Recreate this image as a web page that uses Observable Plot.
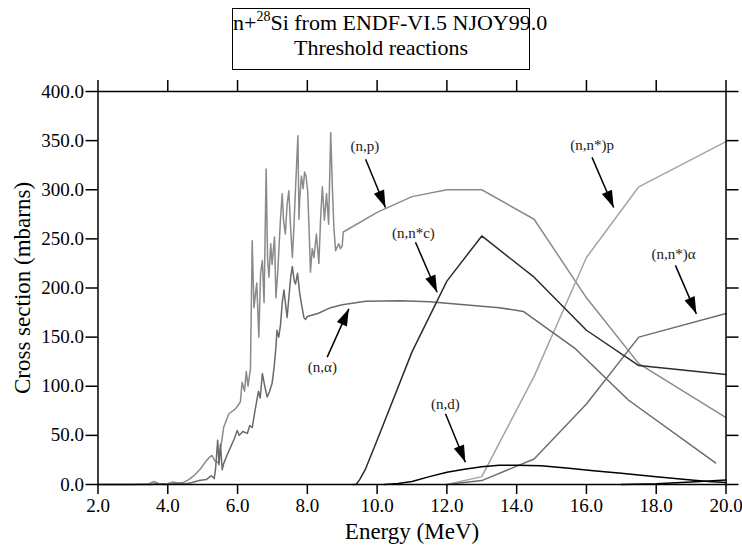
<!DOCTYPE html>
<html>
<head>
<meta charset="utf-8">
<script src="https://cdn.jsdelivr.net/npm/d3@7"></script>
<script src="https://cdn.jsdelivr.net/npm/@observablehq/plot@0.6"></script>
<style>
  html, body { margin: 0; padding: 0; background: white; }
  #wrap { position: relative; width: 742px; height: 548px; font-family: "Liberation Serif"; }
  #title { position: absolute; left: 232px; top: 8px; width: 296px; height: 59px; border: 1.5px solid black; white-space: nowrap;
           text-align: center; font-size: 22px; line-height: 25px; padding-top: 1px; box-sizing: content-box; color: #000; background: white; }
  #title sup { font-size: 14px; line-height: 0; vertical-align: 9px; }
</style>
</head>
<body>
<div id="wrap">
  <div id="title">n+<sup>28</sup>Si from ENDF-VI.5 NJOY99.0<br>Threshold reactions</div>
</div>
<script>
// ---- tick labels ----
const xTicks = [2, 4, 6, 8, 10, 12, 14, 16, 18, 20];
const yTicks = [0, 50, 100, 150, 200, 250, 300, 350, 400];
const xTitle = "Energy (MeV)";
const yTitle = "Cross section (mbarns)";

// ---- (n,p) ----
const npE = [2.0, 3.0, 3.45, 3.6, 3.75, 4.0, 4.15, 4.3, 4.45, 4.6, 4.75, 4.94, 5.1, 5.2, 5.27, 5.35, 5.45, 5.5, 5.55, 5.6, 5.75, 5.94, 6.08, 6.13, 6.2, 6.25, 6.3, 6.37, 6.42, 6.47, 6.55, 6.61, 6.66, 6.71, 6.76, 6.82, 6.86, 6.9, 6.95, 6.99, 7.06, 7.1, 7.15, 7.23, 7.28, 7.32, 7.37, 7.42, 7.47, 7.52, 7.57, 7.61, 7.66, 7.73, 7.76, 7.78, 7.83, 7.88, 7.92, 7.96, 8.01, 8.05, 8.09, 8.14, 8.19, 8.26, 8.33, 8.38, 8.43, 8.49, 8.55, 8.61, 8.67, 8.72, 8.76, 8.81, 8.9, 8.95, 9.0, 9.03, 10.0, 11.0, 12.0, 13.0, 14.5, 16.0, 17.5, 20.0];
const npS = [0, 0, 0.5, 3, 0.5, 1, 2.5, 1.5, 2, 5, 9, 16, 24, 28, 29.5, 24, 22, 35, 45, 58, 72, 77, 84, 104, 95, 115, 100, 118, 248, 180, 205, 150, 215, 228, 185, 321, 230, 211, 245, 224, 252, 190, 215, 270, 296, 268, 255, 285, 299, 262, 231, 258, 300, 355, 270, 289, 314, 301, 318, 314, 299, 260, 216, 240, 231, 255, 225, 270, 303, 269, 296, 265, 358, 300, 262, 238, 245, 240, 243, 257, 277, 293, 300, 300, 270, 190, 123, 68];

// ---- (n,alpha) ----
const naE = [2.0, 3.5, 3.7, 3.9, 4.3, 4.5, 4.7, 4.9, 5.1, 5.25, 5.33, 5.37, 5.43, 5.47, 5.51, 5.56, 5.6, 5.7, 5.8, 5.9, 5.99, 6.05, 6.15, 6.28, 6.35, 6.42, 6.5, 6.6, 6.65, 6.71, 6.78, 6.85, 6.92, 6.99, 7.05, 7.1, 7.13, 7.18, 7.23, 7.28, 7.33, 7.38, 7.42, 7.47, 7.52, 7.57, 7.62, 7.66, 7.72, 7.78, 7.84, 7.9, 7.95, 8.0, 8.3, 8.67, 9.0, 9.67, 10.67, 11.5, 12.5, 13.5, 14.2, 15.69, 17.2, 19.7];
const naS = [0, 0, 1, 0, 1, 0.5, 2, 4, 5, 9, 6, 16, 45, 20, 41, 15, 21, 30, 38, 46, 55, 50, 54, 52, 60, 58, 75, 95, 88, 113, 100, 89, 95, 103, 120, 140, 157, 150, 162, 185, 198, 182, 170, 190, 210, 222, 208, 204, 215, 195, 182, 170, 168, 171, 174, 180, 183, 186.5, 187, 186, 183, 180, 176, 138, 86, 22];

// ---- (n,n*c) ----
const ncE = [9.3, 9.4, 9.5, 9.67, 10.0, 11.0, 12.0, 13.0, 14.5, 16.0, 17.5, 20.0];
const ncS = [0, 0, 5, 16, 45, 135, 207, 253, 211, 157, 121, 112];

// ---- (n,d) ----
const ndE = [10.2, 10.6, 11.0, 11.5, 12.0, 12.5, 13.0, 13.5, 14.0, 14.7, 15.5, 16.2, 17.0, 18.0, 19.0, 19.5, 20.0];
const ndS = [0, 1, 3, 8, 12.5, 15.5, 18, 19.5, 19.5, 19, 16.5, 14, 11.5, 8, 4.5, 3, 2];

// ---- small unlabeled reaction near 20 MeV ----
const ntE = [17.0, 18.0, 19.0, 20.0];
const ntS = [0, 0.8, 2.5, 4.5];

// ---- (n,n*)p ----
const nnpE = [12.0, 13.0, 14.5, 16.0, 17.5, 20.0];
const nnpS = [0, 8, 110, 231, 303, 349];

// ---- (n,n*)alpha ----
const nnaE = [12.0, 13.0, 14.5, 16.0, 17.5, 20.0];
const nnaS = [0, 4, 26, 82, 150, 174];

// ---- annotations: label position, arrow start, arrow tip ----
const annLabel = ["(n,p)", "(n,n*c)", "(n,α)", "(n,d)", "(n,n*)p", "(n,n*)α"];
const annX  = [9.65, 11.04, 8.43, 11.96, 16.16, 18.5];
const annY  = [344, 255.5, 119.4, 82, 345, 234.8];
const arrX1 = [9.67, 11.1, 8.57, 11.96, 16.16, 18.55];
const arrY1 = [331, 246.6, 129.6, 72, 333, 223];
const arrX2 = [10.24, 11.72, 9.19, 12.53, 16.78, 19.15];
const arrY2 = [282, 195.7, 178.8, 22.7, 282, 173.7];

// ---- build tables ----
const mk = (E, S) => E.map((e, i) => ({E: e, S: S[i]}));
const series = [
  {data: mk(npE, npS),  color: "#8a8a8a"},
  {data: mk(nnpE, nnpS), color: "#a4a4a4"},
  {data: mk(naE, naS),  color: "#6a6a6a"},
  {data: mk(nnaE, nnaS), color: "#6e6e6e"},
  {data: mk(ncE, ncS),  color: "#2c2c2c"},
  {data: mk(ntE, ntS),  color: "#000000"},
  {data: mk(ndE, ndS),  color: "#000000"}
];

const W = 742, H = 548;
const mL = 97.5, mR = 16.5, mT = 91, mB = 64;
const xs = d3.scaleLinear().domain([2, 20]).range([mL, W - mR]);
const ys = d3.scaleLinear().domain([0, 400]).range([H - mB, mT]);

const ann = annLabel.map((t, i) => {
  const dx = xs(arrX2[i]) - xs(arrX1[i]);
  const dy = ys(arrY2[i]) - ys(arrY1[i]);
  return {t, x: annX[i], y: annY[i], x1: arrX1[i], y1: arrY1[i], x2: arrX2[i], y2: arrY2[i],
          ang: Math.atan2(dx, -dy) * 180 / Math.PI};
});

const arrowHead = {
  draw(ctx) {
    ctx.moveTo(0, 0);
    ctx.lineTo(-5.5, 17);
    ctx.lineTo(5.5, 17);
    ctx.closePath();
  }
};

const fmt = d => d.toFixed(1);
const font = "Liberation Serif";

const plot = Plot.plot({
  width: W, height: H,
  marginLeft: mL, marginRight: mR, marginTop: mT, marginBottom: mB,
  style: {background: "transparent", color: "black"},
  x: {domain: [2, 20]},
  y: {domain: [0, 400]},
  marks: [
    ...series.map(s => Plot.line(s.data, {x: "E", y: "S", stroke: s.color, strokeWidth: 1.5})),
    Plot.frame({stroke: "black", strokeWidth: 1.5}),
    Plot.axisX({anchor: "bottom", ticks: xTicks, tickFormat: fmt, tickSize: 10, tickPadding: 4, fontSize: 19, fontFamily: font, label: null, strokeWidth: 1.5}),
    Plot.axisX({anchor: "top", ticks: xTicks, tickFormat: () => "", tickSize: 12, label: null, strokeWidth: 1.5}),
    Plot.axisY({anchor: "left", ticks: yTicks, tickFormat: fmt, tickSize: 12, tickPadding: 2, fontSize: 19, fontFamily: font, label: null, strokeWidth: 1.5}),
    Plot.axisY({anchor: "right", ticks: yTicks, tickFormat: () => "", tickSize: 12, label: null, strokeWidth: 1.5}),
    Plot.text([xTitle], {frameAnchor: "bottom", dy: 47, fontSize: 23, fontFamily: font, text: d => d, textAnchor: "middle", lineAnchor: "middle"}),
    Plot.text([yTitle], {frameAnchor: "left", dx: -75, rotate: -90, fontSize: 23, fontFamily: font, text: d => d, textAnchor: "middle", lineAnchor: "middle"}),
    Plot.link(ann, {x1: "x1", y1: "y1", x2: "x2", y2: "y2", stroke: "black", strokeWidth: 1.5}),
    Plot.dot(ann, {x: "x2", y: "y2", symbol: arrowHead, rotate: "ang", fill: "black", stroke: "none", r: 5}),
    Plot.text(ann, {x: "x", y: "y", text: "t", fontSize: 15, fontFamily: font, fill: "#222", lineAnchor: "middle"})
  ]
});
plot.style.position = "absolute";
plot.style.left = "0px";
plot.style.top = "0px";
document.getElementById("wrap").prepend(plot);
</script>
</body>
</html>
